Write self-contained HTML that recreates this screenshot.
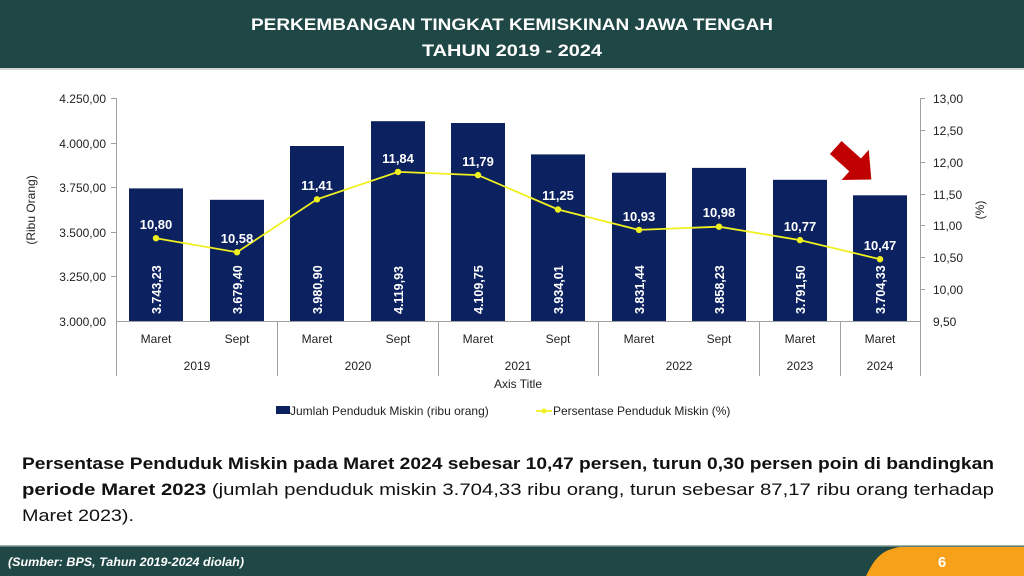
<!DOCTYPE html>
<html><head><meta charset="utf-8"><style>
html,body{margin:0;padding:0;background:#fff}
svg{display:block}
text{font-family:"Liberation Sans",sans-serif}
</style></head><body>
<svg width="1024" height="576" viewBox="0 0 1024 576" xmlns="http://www.w3.org/2000/svg">
<rect x="0" y="0" width="1024" height="68" fill="#1f4745"/>
<rect x="0" y="68" width="1024" height="2" fill="#cfd6d5"/>
<text x="512" y="30" text-anchor="middle" font-size="17" font-weight="bold" fill="#fff" textLength="522" lengthAdjust="spacingAndGlyphs">PERKEMBANGAN TINGKAT KEMISKINAN JAWA TENGAH</text>
<text x="512" y="56" text-anchor="middle" font-size="17" font-weight="bold" fill="#fff" textLength="180" lengthAdjust="spacingAndGlyphs">TAHUN 2019 - 2024</text>

<g stroke="#a0a0a0" stroke-width="1" fill="none">
<line x1="116.5" y1="98" x2="116.5" y2="376"/>
<line x1="920.5" y1="98" x2="920.5" y2="376"/>
<line x1="116" y1="321.5" x2="920" y2="321.5"/>
<line x1="277.5" y1="321" x2="277.5" y2="376"/>
<line x1="438.5" y1="321" x2="438.5" y2="376"/>
<line x1="598.5" y1="321" x2="598.5" y2="376"/>
<line x1="759.5" y1="321" x2="759.5" y2="376"/>
<line x1="840.5" y1="321" x2="840.5" y2="376"/>
<line x1="111" y1="98.5" x2="116" y2="98.5"/><line x1="111" y1="143.5" x2="116" y2="143.5"/><line x1="111" y1="187.5" x2="116" y2="187.5"/><line x1="111" y1="232.5" x2="116" y2="232.5"/><line x1="111" y1="276.5" x2="116" y2="276.5"/>
<line x1="920" y1="98.5" x2="925" y2="98.5"/><line x1="920" y1="130.5" x2="925" y2="130.5"/><line x1="920" y1="162.5" x2="925" y2="162.5"/><line x1="920" y1="194.5" x2="925" y2="194.5"/><line x1="920" y1="225.5" x2="925" y2="225.5"/><line x1="920" y1="257.5" x2="925" y2="257.5"/><line x1="920" y1="289.5" x2="925" y2="289.5"/>
</g>
<g font-size="12" fill="#222" text-anchor="end">
<text x="106" y="103">4.250,00</text><text x="106" y="148">4.000,00</text><text x="106" y="192">3.750,00</text><text x="106" y="237">3.500,00</text><text x="106" y="281">3.250,00</text><text x="106" y="326">3.000,00</text>
</g>
<g font-size="12" fill="#222" text-anchor="start">
<text x="933" y="103">13,00</text><text x="933" y="135">12,50</text><text x="933" y="167">12,00</text><text x="933" y="199">11,50</text><text x="933" y="230">11,00</text><text x="933" y="262">10,50</text><text x="933" y="294">10,00</text><text x="933" y="326">9,50</text>
</g>
<text transform="translate(35,210) rotate(-90)" text-anchor="middle" font-size="12" fill="#222">(Ribu Orang)</text>
<text transform="translate(984,210) rotate(-90)" text-anchor="middle" font-size="12" fill="#222">(%)</text>

<g fill="#0c2260">
<rect x="129" y="188.4" width="54" height="132.6"/>
<rect x="210" y="199.8" width="54" height="121.2"/>
<rect x="290" y="146" width="54" height="175"/>
<rect x="371" y="121.2" width="54" height="199.8"/>
<rect x="451" y="123" width="54" height="198"/>
<rect x="531" y="154.4" width="54" height="166.6"/>
<rect x="612" y="172.7" width="54" height="148.3"/>
<rect x="692" y="167.9" width="54" height="153.1"/>
<rect x="773" y="179.8" width="54" height="141.2"/>
<rect x="853" y="195.3" width="54" height="125.7"/>
</g>
<g font-size="12.5" font-weight="bold" fill="#fff" text-anchor="start">
<text transform="translate(161,314) rotate(-90)">3.743,23</text>
<text transform="translate(242,314) rotate(-90)">3.679,40</text>
<text transform="translate(322,314) rotate(-90)">3.980,90</text>
<text transform="translate(403,314) rotate(-90)">4.119,93</text>
<text transform="translate(483,314) rotate(-90)">4.109,75</text>
<text transform="translate(563,314) rotate(-90)">3.934,01</text>
<text transform="translate(644,314) rotate(-90)">3.831,44</text>
<text transform="translate(724,314) rotate(-90)">3.858,23</text>
<text transform="translate(805,314) rotate(-90)">3.791,50</text>
<text transform="translate(885,314) rotate(-90)">3.704,33</text>
</g>
<polyline fill="none" stroke="#f0f020" stroke-width="1.8" points="156,238.2 237,252.2 317,199.3 398,171.9 478,175.1 558,209.5 639,229.9 719,226.7 800,240.1 880,259.2"/>
<g fill="#f0f020">
<circle cx="156" cy="238.2" r="3.2"/><circle cx="237" cy="252.2" r="3.2"/><circle cx="317" cy="199.3" r="3.2"/><circle cx="398" cy="171.9" r="3.2"/><circle cx="478" cy="175.1" r="3.2"/><circle cx="558" cy="209.5" r="3.2"/><circle cx="639" cy="229.9" r="3.2"/><circle cx="719" cy="226.7" r="3.2"/><circle cx="800" cy="240.1" r="3.2"/><circle cx="880" cy="259.2" r="3.2"/>
</g>
<g font-size="13" font-weight="bold" fill="#fff" text-anchor="middle">
<text x="156" y="229">10,80</text><text x="237" y="243">10,58</text><text x="317" y="190">11,41</text><text x="398" y="163">11,84</text><text x="478" y="166">11,79</text><text x="558" y="200">11,25</text><text x="639" y="221">10,93</text><text x="719" y="217">10,98</text><text x="800" y="231">10,77</text><text x="880" y="250">10,47</text>
</g>
<polygon transform="translate(853,163) rotate(42) scale(1.45)" fill="#c00000" points="-16,-6 2,-6 2,-14 17,0 2,14 2,6 -16,6"/>

<g font-size="12" fill="#222" text-anchor="middle">
<text x="156" y="343">Maret</text><text x="237" y="343">Sept</text><text x="317" y="343">Maret</text><text x="398" y="343">Sept</text><text x="478" y="343">Maret</text><text x="558" y="343">Sept</text><text x="639" y="343">Maret</text><text x="719" y="343">Sept</text><text x="800" y="343">Maret</text><text x="880" y="343">Maret</text>
<text x="197" y="370">2019</text><text x="358" y="370">2020</text><text x="518" y="370">2021</text><text x="679" y="370">2022</text><text x="800" y="370">2023</text><text x="880" y="370">2024</text>
<text x="518" y="388">Axis Title</text>
</g>
<rect x="276" y="406" width="14" height="8" fill="#0c2260"/>
<text x="290" y="415" font-size="12" fill="#222">Jumlah Penduduk Miskin (ribu orang)</text>
<line x1="536" y1="411" x2="552" y2="411" stroke="#f0f020" stroke-width="1.8"/><circle cx="544" cy="411" r="2.5" fill="#f0f020"/>
<text x="553" y="415" font-size="12" fill="#222">Persentase Penduduk Miskin (%)</text>

<g font-size="17" fill="#111">
<text x="22" y="469" font-weight="bold" textLength="972" lengthAdjust="spacingAndGlyphs">Persentase Penduduk Miskin pada Maret 2024 sebesar 10,47 persen, turun 0,30 persen poin di bandingkan</text>
<text x="22" y="495" textLength="972" lengthAdjust="spacingAndGlyphs"><tspan font-weight="bold">periode Maret 2023</tspan> (jumlah penduduk miskin 3.704,33 ribu orang, turun sebesar 87,17 ribu orang terhadap</text>
<text x="22" y="521" textLength="112" lengthAdjust="spacingAndGlyphs">Maret 2023).</text>
</g>

<rect x="0" y="546" width="1024" height="30" fill="#1f4745"/>
<rect x="0" y="545" width="1024" height="1.5" fill="#9fb3b1"/>
<path d="M866,576 C874,560 880,550 900,547 L1024,547 L1024,576 Z" fill="#f7a11a"/>
<text x="8" y="566" font-size="12" font-style="italic" font-weight="bold" fill="#fff" textLength="236" lengthAdjust="spacingAndGlyphs">(Sumber: BPS, Tahun 2019-2024 diolah)</text>
<text x="942" y="567" font-size="15" font-weight="bold" fill="#fff" text-anchor="middle">6</text>
</svg>
</body></html>
